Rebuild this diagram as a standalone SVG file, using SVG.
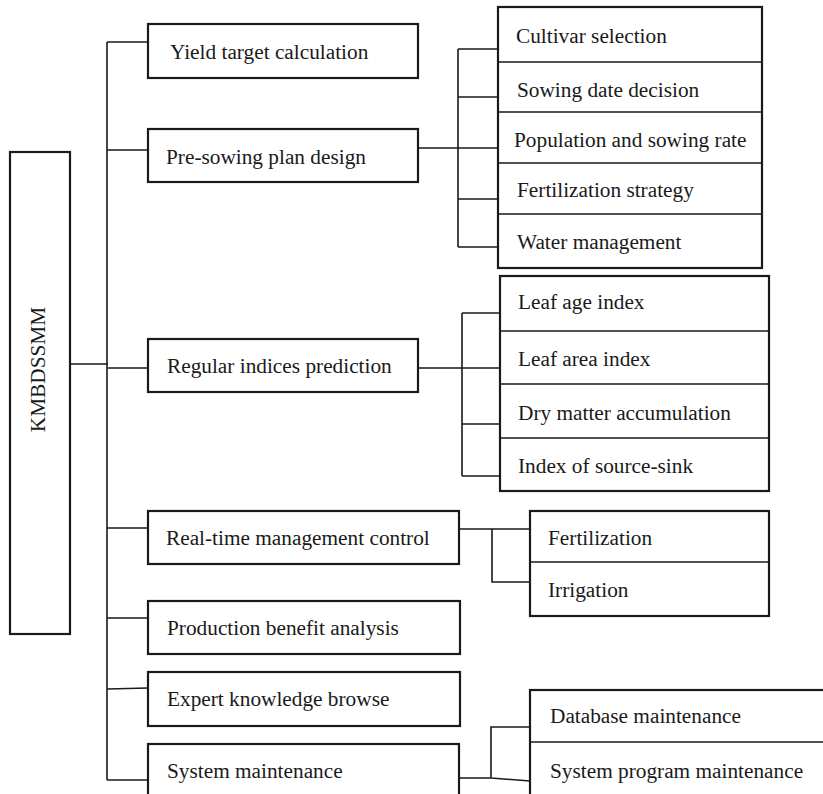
<svg xmlns="http://www.w3.org/2000/svg" width="823" height="794" viewBox="0 0 823 794">
<style>
.box{fill:#fff;stroke:#1a1a1a;stroke-width:2.2}
.div{fill:none;stroke:#1a1a1a;stroke-width:1.6}
.ln{fill:none;stroke:#1a1a1a;stroke-width:1.6}
text{font-family:"Liberation Serif","Times New Roman",serif;font-size:21.3px;fill:#1a1a1a}
</style>
<rect width="823" height="794" fill="#fff"/>
<g id="connectors">
<path class="ln" d="M107,42 V780"/>
<path class="ln" d="M107,42 H153"/>
<path class="ln" d="M107,150 H148"/>
<path class="ln" d="M70,364 H108 M108,368 H155"/>
<path class="ln" d="M107,528 H148"/>
<path class="ln" d="M107,618 H148"/>
<path class="ln" d="M107,689 L148,688"/>
<path class="ln" d="M107,780 H148"/>
<path class="ln" d="M458,49 V247 M458,49 H498 M458,97 H498 M418,148 H498 M458,199 H498 M458,247 H498"/>
<path class="ln" d="M462,313 V476 M462,313 H500 M418,368 H500 M462,424 H500 M462,476 H500"/>
<path class="ln" d="M459,529 H530 M492,529 V582 H530"/>
<path class="ln" d="M459,778 L491,778 L530,781 M491,778 V727 H530"/>
</g>
<g id="root">
<rect class="box" x="10" y="152" width="60" height="482"/>
<text transform="translate(45,369.5) rotate(-90)" text-anchor="middle">KMBDSSMM</text>
</g>
<g id="yield">
<rect class="box" x="148" y="24" width="270" height="54"/>
<text x="170" y="59">Yield target calculation</text>
</g>
<g id="presowing">
<rect class="box" x="148" y="129" width="270" height="53"/>
<text x="166" y="164">Pre-sowing plan design</text>
</g>
<g id="presowing-sub">
<rect class="box" x="498" y="7" width="264" height="261"/>
<path class="div" d="M498,62 H762 M498,112 H762 M498,163 H762 M498,214 H762"/>
<text x="516" y="43">Cultivar selection</text>
<text x="517" y="97">Sowing date decision</text>
<text x="514" y="147">Population and sowing rate</text>
<text x="517" y="197">Fertilization strategy</text>
<text x="517" y="249">Water management</text>
</g>
<g id="regular">
<rect class="box" x="148" y="339" width="270" height="53"/>
<text x="167" y="373">Regular indices prediction</text>
</g>
<g id="regular-sub">
<rect class="box" x="500" y="276" width="269" height="215"/>
<path class="div" d="M500,331 H769 M500,384 H769 M500,438 H769"/>
<text x="518" y="309">Leaf age index</text>
<text x="518" y="366">Leaf area index</text>
<text x="518" y="420">Dry matter accumulation</text>
<text x="518" y="473">Index of source-sink</text>
</g>
<g id="realtime">
<rect class="box" x="148" y="511" width="311" height="53"/>
<text x="166" y="545">Real-time management control</text>
</g>
<g id="realtime-sub">
<rect class="box" x="530" y="511" width="239" height="105"/>
<path class="div" d="M530,562 H769"/>
<text x="548" y="545">Fertilization</text>
<text x="548" y="597">Irrigation</text>
</g>
<g id="production">
<rect class="box" x="148" y="601" width="312" height="53"/>
<text x="167" y="635">Production benefit analysis</text>
</g>
<g id="expert">
<rect class="box" x="148" y="672" width="312" height="54"/>
<text x="167" y="706">Expert knowledge browse</text>
</g>
<g id="sysmaint">
<rect class="box" x="148" y="744" width="311" height="60"/>
<text x="167" y="778">System maintenance</text>
</g>
<g id="sysmaint-sub">
<rect class="box" x="530" y="690" width="300" height="114"/>
<path class="div" d="M530,742 H823"/>
<text x="550" y="723">Database maintenance</text>
<text x="550" y="778">System program maintenance</text>
</g>
</svg>
